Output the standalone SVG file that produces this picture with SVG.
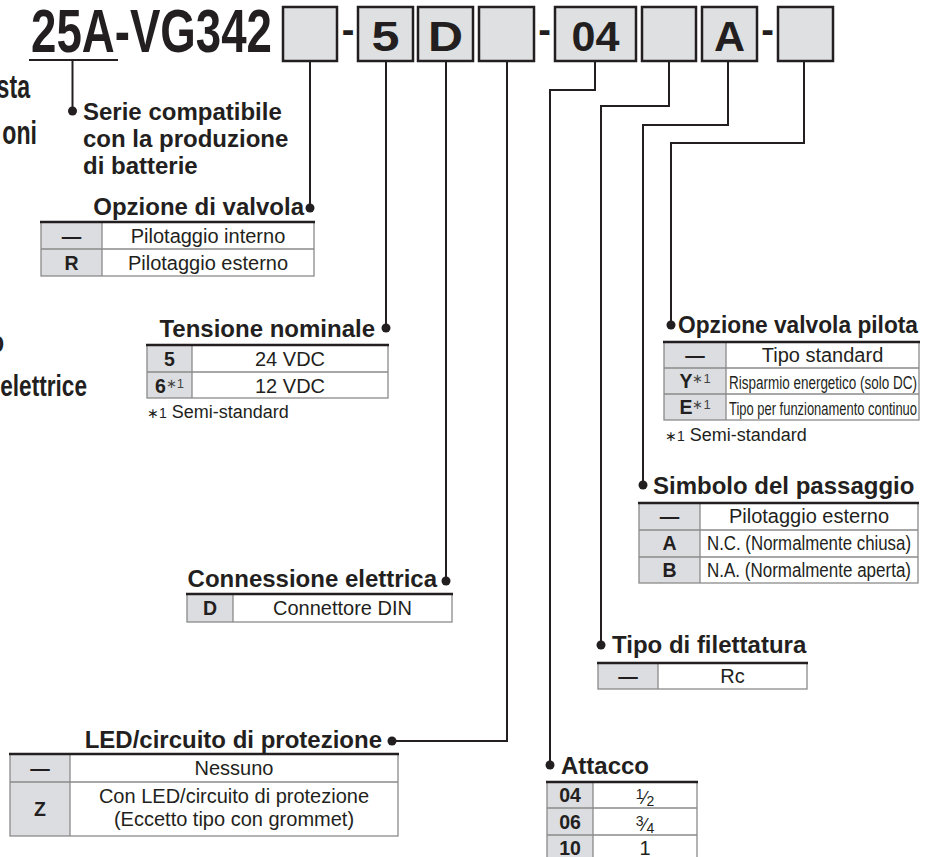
<svg xmlns="http://www.w3.org/2000/svg" width="933" height="857" viewBox="0 0 933 857">
<style>
text{font-family:"Liberation Sans",Arial,sans-serif;fill:#231f20}
.ttl{font-weight:bold;font-size:24px}
.big{font-weight:bold}
.c{font-size:20px;text-anchor:middle}
.k{font-size:19.5px;font-weight:bold;text-anchor:middle}
.sup{font-size:13px;font-weight:normal;fill:#444}
.fn{font-size:18px}
.fr{font-size:14px}
.box{fill:#dfe0e2;stroke:#231f20;stroke-width:2.5}
.kf{fill:#dcdde0}
.grid{fill:none;stroke:#8a8a8a;stroke-width:1.3}
.top{stroke:#231f20;stroke-width:2.5}
.conn{fill:none;stroke:#231f20;stroke-width:2}
.dot{fill:#231f20}
</style>

<g id="left-cut">
<text class="big" font-size="33" text-anchor="end" transform="translate(30,98) scale(0.7,1)">sta</text>
<text class="big" font-size="33" text-anchor="end" transform="translate(37,144) scale(0.7,1)">oni</text>
<text class="big" font-size="29" text-anchor="end" transform="translate(4,352) scale(0.78,1)">o</text>
<text class="big" font-size="29" text-anchor="end" transform="translate(87,396) scale(0.78,1)">elettrice</text>
</g>

<g id="header">
<text class="big" x="31" y="52" font-size="61" textLength="241" lengthAdjust="spacingAndGlyphs">25A-VG342</text>
<rect class="box" x="283" y="7" width="54" height="54"/>
<text class="big" x="348" y="43" font-size="38" text-anchor="middle">-</text>
<rect class="box" x="358" y="7" width="55" height="54"/>
<text class="big" x="385.5" y="51" font-size="43" text-anchor="middle" textLength="28" lengthAdjust="spacingAndGlyphs">5</text>
<rect class="box" x="418" y="7" width="55" height="54"/>
<text class="big" x="445.5" y="51" font-size="43" text-anchor="middle" textLength="35" lengthAdjust="spacingAndGlyphs">D</text>
<rect class="box" x="479" y="7" width="55" height="54"/>
<text class="big" x="544.5" y="43" font-size="38" text-anchor="middle">-</text>
<rect class="box" x="555" y="7" width="81" height="54"/>
<text class="big" x="595.5" y="51" font-size="43" text-anchor="middle" textLength="48" lengthAdjust="spacingAndGlyphs">04</text>
<rect class="box" x="642" y="7" width="54" height="54"/>
<rect class="box" x="702" y="7" width="55" height="54"/>
<text class="big" x="729.5" y="51" font-size="43" text-anchor="middle">A</text>
<text class="big" x="767.5" y="43" font-size="38" text-anchor="middle">-</text>
<rect class="box" x="778" y="7" width="55" height="54"/>
</g>

<g id="connectors">
<line class="conn" x1="29" y1="60" x2="118" y2="60"/>
<polyline class="conn" points="72.5,60 72.5,111"/>
<polyline class="conn" points="310,61 310,208"/>
<polyline class="conn" points="386,61 386,328"/>
<polyline class="conn" points="446,61 446,581"/>
<polyline class="conn" points="507,61 507,741 392,741"/>
<polyline class="conn" points="595,61 595,90 550,90 550,765"/>
<polyline class="conn" points="669,61 669,106 601,106 601,645"/>
<polyline class="conn" points="728,61 728,125 643,125 643,485"/>
<polyline class="conn" points="804,61 804,143 671,143 671,325"/>
</g>

<g id="serie">
<circle class="dot" cx="72.5" cy="111" r="4.5"/>
<text class="ttl" x="83" y="120" font-size="23">Serie compatibile</text>
<text class="ttl" x="83" y="147" font-size="23">con la produzione</text>
<text class="ttl" x="83" y="174" font-size="23">di batterie</text>
</g>

<g id="opzione-valvola">
<circle class="dot" cx="310" cy="208" r="4.5"/>
<text class="ttl" x="304" y="215" text-anchor="end">Opzione di valvola</text>
<rect class="kf" x="41" y="222" width="61" height="54"/>
<rect class="grid" x="41" y="222" width="273" height="54"/>
<line class="grid" x1="41" y1="249" x2="314" y2="249"/>
<line class="grid" x1="102" y1="222" x2="102" y2="276"/>
<line class="top" x1="40" y1="222" x2="315" y2="222"/>
<text class="k" x="71.5" y="243">—</text>
<text class="c" x="208" y="243">Pilotaggio interno</text>
<text class="k" x="71.5" y="270">R</text>
<text class="c" x="208" y="270">Pilotaggio esterno</text>
</g>

<g id="tensione">
<circle class="dot" cx="386" cy="328" r="4.5"/>
<text class="ttl" x="375" y="337" text-anchor="end">Tensione nominale</text>
<rect class="kf" x="147" y="345" width="45" height="53"/>
<rect class="grid" x="147" y="345" width="241" height="53"/>
<line class="grid" x1="147" y1="372" x2="388" y2="372"/>
<line class="grid" x1="192" y1="345" x2="192" y2="398"/>
<line class="top" x1="146" y1="345" x2="389" y2="345"/>
<text class="k" x="169.5" y="366">5</text>
<text class="c" x="290" y="366">24 VDC</text>
<text class="k" x="169.5" y="393">6<tspan class="sup" dy="-5">∗1</tspan></text>
<text class="c" x="290" y="393">12 VDC</text>
<text class="fn" x="147" y="418"><tspan font-size="14">∗1</tspan>  Semi-standard</text>
</g>

<g id="opzione-pilota">
<circle class="dot" cx="671" cy="325" r="4.5"/>
<text class="ttl" x="678" y="333" font-size="23" textLength="240" lengthAdjust="spacingAndGlyphs">Opzione valvola pilota</text>
<rect class="kf" x="664" y="342" width="62" height="78"/>
<rect class="grid" x="664" y="342" width="255" height="78"/>
<line class="grid" x1="664" y1="368" x2="919" y2="368"/>
<line class="grid" x1="664" y1="394" x2="919" y2="394"/>
<line class="grid" x1="726" y1="342" x2="726" y2="420"/>
<line class="top" x1="663" y1="342" x2="920" y2="342"/>
<text class="k" x="695" y="362">—</text>
<text class="c" x="822.5" y="362">Tipo standard</text>
<text class="k" x="695" y="388">Y<tspan class="sup" dy="-5">∗1</tspan></text>
<text x="729" y="389" font-size="17.5" textLength="188" lengthAdjust="spacingAndGlyphs">Risparmio energetico (solo DC)</text>
<text class="k" x="695" y="414">E<tspan class="sup" dy="-5">∗1</tspan></text>
<text x="729" y="415" font-size="17.5" textLength="188" lengthAdjust="spacingAndGlyphs">Tipo per funzionamento continuo</text>
<text class="fn" x="665" y="441"><tspan font-size="14">∗1</tspan>  Semi-standard</text>
</g>

<g id="simbolo">
<circle class="dot" cx="643" cy="485" r="4.5"/>
<text class="ttl" x="653" y="494">Simbolo del passaggio</text>
<rect class="kf" x="639" y="503" width="61" height="80"/>
<rect class="grid" x="639" y="503" width="279" height="80"/>
<line class="grid" x1="639" y1="530" x2="918" y2="530"/>
<line class="grid" x1="639" y1="557" x2="918" y2="557"/>
<line class="grid" x1="700" y1="503" x2="700" y2="583"/>
<line class="top" x1="638" y1="503" x2="919" y2="503"/>
<text class="k" x="669.5" y="523">—</text>
<text class="c" x="809" y="523">Pilotaggio esterno</text>
<text class="k" x="669.5" y="550">A</text>
<text x="707" y="550" font-size="19.5" textLength="204" lengthAdjust="spacingAndGlyphs">N.C. (Normalmente chiusa)</text>
<text class="k" x="669.5" y="577">B</text>
<text x="707" y="577" font-size="19.5" textLength="204" lengthAdjust="spacingAndGlyphs">N.A. (Normalmente aperta)</text>
</g>

<g id="connessione">
<circle class="dot" cx="446" cy="581" r="4.5"/>
<text class="ttl" x="437" y="587" text-anchor="end">Connessione elettrica</text>
<rect class="kf" x="187" y="594" width="46" height="28"/>
<rect class="grid" x="187" y="594" width="265" height="28"/>
<line class="grid" x1="233" y1="594" x2="233" y2="622"/>
<line class="top" x1="186" y1="594" x2="453" y2="594"/>
<text class="k" x="210" y="615">D</text>
<text class="c" x="342.5" y="615">Connettore DIN</text>
</g>

<g id="tipo-filettatura">
<circle class="dot" cx="601" cy="645" r="4.5"/>
<text class="ttl" x="612" y="653">Tipo di filettatura</text>
<rect class="kf" x="598" y="663" width="60" height="26"/>
<rect class="grid" x="598" y="663" width="209" height="26"/>
<line class="grid" x1="658" y1="663" x2="658" y2="689"/>
<line class="top" x1="597" y1="663" x2="808" y2="663"/>
<text class="k" x="628" y="683">—</text>
<text class="c" x="732.5" y="683">Rc</text>
</g>

<g id="led">
<circle class="dot" cx="392" cy="741" r="4.5"/>
<text class="ttl" x="382" y="748" text-anchor="end">LED/circuito di protezione</text>
<rect class="kf" x="10" y="754" width="60" height="82"/>
<rect class="grid" x="10" y="754" width="388" height="82"/>
<line class="grid" x1="10" y1="782" x2="398" y2="782"/>
<line class="grid" x1="70" y1="754" x2="70" y2="836"/>
<line class="top" x1="9" y1="754" x2="399" y2="754"/>
<text class="k" x="40" y="775">—</text>
<text class="c" x="234" y="775">Nessuno</text>
<text class="k" x="40" y="816">Z</text>
<text class="c" x="234" y="803">Con LED/circuito di protezione</text>
<text class="c" x="234" y="826">(Eccetto tipo con grommet)</text>
</g>

<g id="attacco">
<circle class="dot" cx="550" cy="765" r="4.5"/>
<text class="ttl" x="561" y="774">Attacco</text>
<rect class="kf" x="547" y="782" width="46" height="80"/>
<rect class="grid" x="547" y="782" width="150" height="80"/>
<line class="grid" x1="547" y1="808" x2="697" y2="808"/>
<line class="grid" x1="547" y1="835" x2="697" y2="835"/>
<line class="grid" x1="593" y1="782" x2="593" y2="862"/>
<line class="top" x1="546" y1="782" x2="698" y2="782"/>
<text class="k" x="570" y="802">04</text>
<text class="c" x="645" y="799"><tspan class="fr">1</tspan><tspan font-size="18" dy="5">⁄</tspan><tspan class="fr" dy="2">2</tspan></text>
<text class="k" x="570" y="829">06</text>
<text class="c" x="645" y="826"><tspan class="fr">3</tspan><tspan font-size="18" dy="5">⁄</tspan><tspan class="fr" dy="2">4</tspan></text>
<text class="k" x="570" y="855">10</text>
<text class="c" x="645" y="855">1</text>
</g>
</svg>
